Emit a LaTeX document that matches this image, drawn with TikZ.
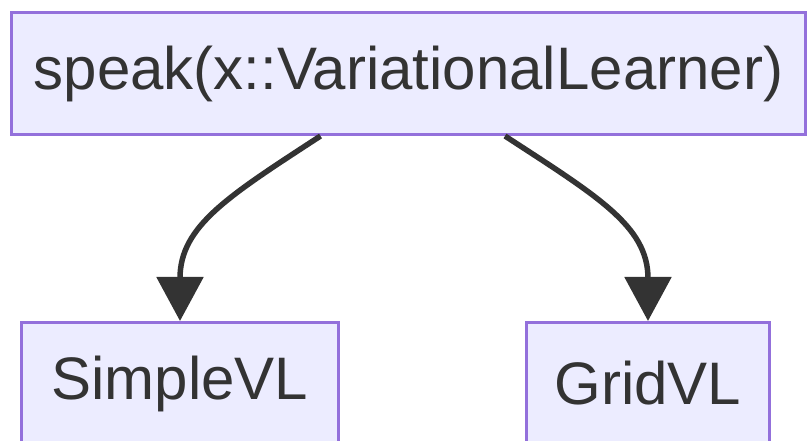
\documentclass[tikz,border=0pt]{standalone}
\usepackage{fontspec}
\setmainfont{Liberation Sans}
\usetikzlibrary{arrows.meta}
\definecolor{boxfill}{HTML}{ECECFF}
\definecolor{boxline}{HTML}{9370DB}
\definecolor{ink}{HTML}{333333}
\tikzset{
  classbox/.style={draw=boxline,fill=boxfill,line width=3pt,inner sep=0pt,
    text=ink,font=\fontsize{60}{71}\selectfont},
  link/.style={draw=ink,line width=5.5pt,-{Triangle[length=44pt,width=46pt]}}
}
\begin{document}
\begin{tikzpicture}[x=1pt,y=-1pt]
  \useasboundingbox (0,0) rectangle (807,441);

  % method box
  \node[classbox,minimum width=794pt,minimum height=122pt] (speak) at (408.5,73.5)
    {speak(x::VariationalLearner)};

  % subtypes
  \node[classbox,minimum width=317pt,minimum height=122pt] (simple) at (180,383.5) {SimpleVL};
  \node[classbox,minimum width=243pt,minimum height=122pt] (grid) at (648,383.5) {GridVL};

  % dispatch arrows
  \draw[link] ([xshift=-88pt]speak.south) .. controls +(-92,60) and +(0,-95) .. (simple.north);
  \draw[link] ([xshift=96.5pt]speak.south) .. controls +(92,60) and +(0,-95) .. (grid.north);
\end{tikzpicture}
\end{document}
